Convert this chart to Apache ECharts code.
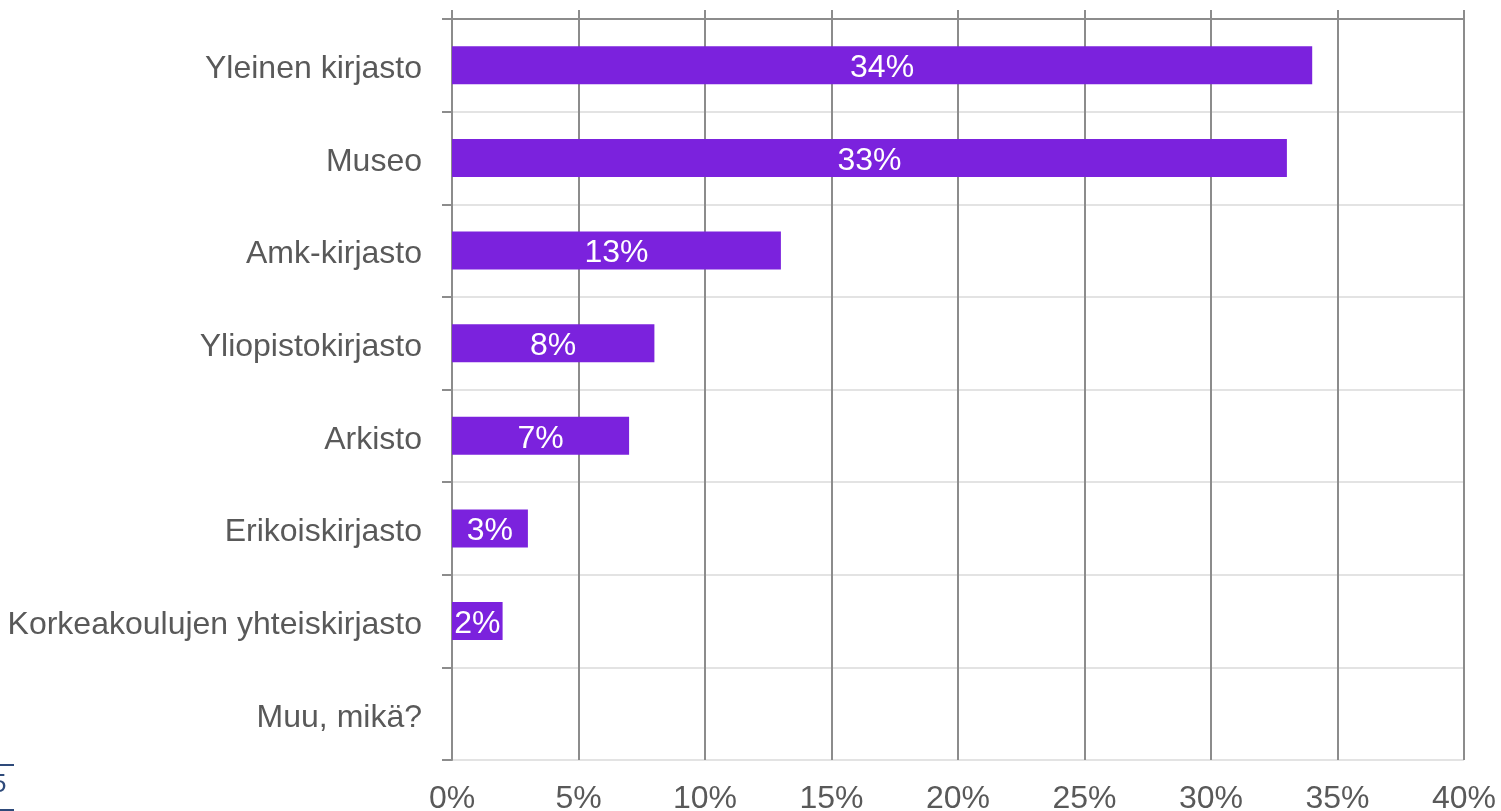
<!DOCTYPE html>
<html>
<head>
<meta charset="utf-8">
<script src="https://cdn.jsdelivr.net/npm/echarts@6/dist/echarts.min.js"></script>
<style>
html,body{margin:0;padding:0;background:#fff;}
#main{width:1501px;height:811px;}
</style>
</head>
<body>
<div id="main"></div>
<script>
const categories = ["Yleinen kirjasto","Museo","Amk-kirjasto","Yliopistokirjasto","Arkisto","Erikoiskirjasto","Korkeakoulujen yhteiskirjasto","Muu, mikä?"];
const values = [34, 33, 13, 8, 7, 3, 2, 0];
const axisMin = 0, axisMax = 40, axisStep = 5;

const chart = echarts.init(document.getElementById('main'));
const font = '"Liberation Sans", Arial, sans-serif';
const dark = '#8c8c8c';
const fs = 32;
chart.setOption({
  animation: false,
  grid: {left: 452, right: 37, top: 19, bottom: 51, containLabel: false, outerBoundsMode: 'none'},
  xAxis: [{
    type: 'value', min: axisMin, max: axisMax, interval: axisStep, position: 'bottom',
    axisLine: {show: false}, axisTick: {show: false},
    splitLine: {show: true, lineStyle: {color: dark, width: 2}},
    axisLabel: {formatter: '{value}%', fontSize: fs, color: '#595959', fontFamily: font, margin: 23}
  }, {
    type: 'value', min: axisMin, max: axisMax, interval: axisStep, position: 'top',
    axisLine: {show: true, lineStyle: {color: dark, width: 2}},
    axisTick: {show: true, inside: false, length: 9, lineStyle: {color: dark, width: 2}},
    axisLabel: {show: false}, splitLine: {show: false}
  }],
  yAxis: {
    type: 'category', inverse: true, data: categories,
    axisLine: {show: true, lineStyle: {color: dark, width: 2}},
    axisTick: {show: true, length: 10, lineStyle: {color: dark, width: 2}},
    splitLine: {show: true, lineStyle: {color: '#e3e3e3', width: 2}},
    axisLabel: {
      margin: 30,
      formatter: v => '{a|' + v + '}',
      rich: {a: {fontSize: fs, color: '#595959', fontFamily: font, padding: [8, 0, 0, 0]}}
    }
  },
  series: [{
    type: 'bar', data: values, xAxisIndex: 0, barWidth: 38,
    itemStyle: {color: '#7B22DD'},
    label: {show: true, position: 'inside', color: '#fff', fontSize: fs, fontFamily: font,
      offset: [0, 3],
      formatter: p => p.value ? p.value + '%' : ''}
  }],
  graphic: [
    {type: 'line', shape: {x1: 0, y1: 765, x2: 14, y2: 765}, style: {stroke: '#2e4a7a', lineWidth: 2}},
    {type: 'text', left: -8, top: 772, style: {text: '5', fontSize: 26, fill: '#2e4a7a', fontFamily: font}},
    {type: 'line', shape: {x1: 0, y1: 810, x2: 14, y2: 810}, style: {stroke: '#2e4a7a', lineWidth: 2}}
  ]
});
</script>
</body>
</html>
